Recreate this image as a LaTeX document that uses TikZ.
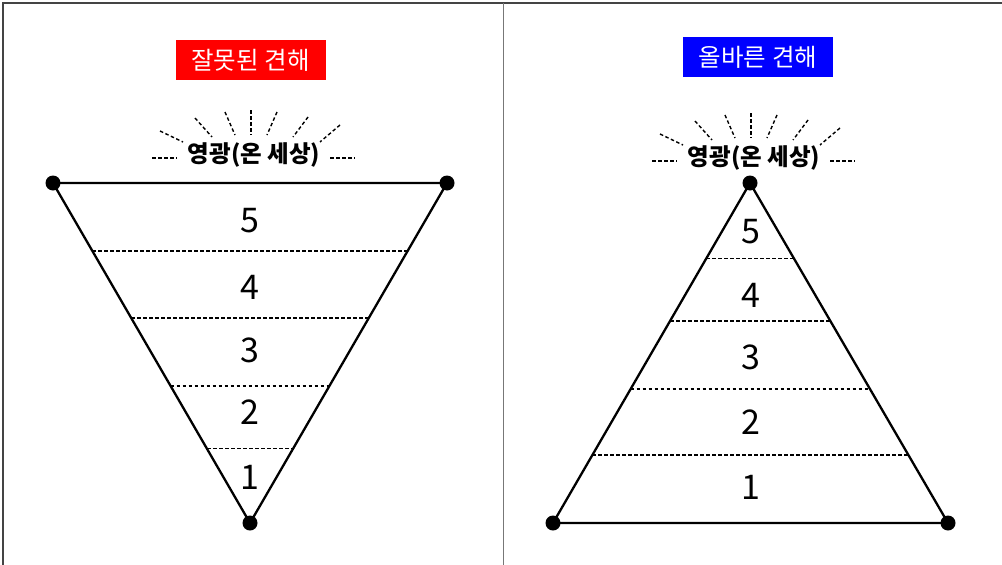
\documentclass[tikz,border=0pt]{standalone}
\usepackage{fontspec}
\setmainfont{Noto Sans CJK KR}
\usetikzlibrary{calc}
\definecolor{framegray}{HTML}{444444}
\definecolor{divgray}{HTML}{777777}
\tikzset{
  vdot/.style={circle,fill=black,inner sep=0pt,minimum size=15pt},
  edge/.style={line width=2.3pt,line join=round},
  level/.style={dash pattern=on 3.5pt off 2.5pt,line width=1.2pt},
  ray/.style={dash pattern=on 3.5pt off 2.5pt,line width=1.4pt},
  num/.style={font=\fontsize{34}{34}\selectfont,inner sep=0pt},
  glorytext/.style={font=\fontsize{23.5}{23.5}\selectfont\bfseries,inner sep=0pt},
  titlebox/.style={text=white,minimum width=150pt,minimum height=40pt,inner sep=0pt,font=\fontsize{24.5}{24.5}\selectfont}
}
\newcommand{\drawglory}[2]{%
  \begin{scope}[shift={(#1,#2)}]
    \node[glorytext] (#1g) at (3,155) {영광(온 세상)};
    \foreach \ax/\ay/\bx/\by in {-99/158/-74/158, 79/158/104/158,
       -91/131/-68/142, -56/118/-39/137, -26/112/-16/135, 0/110/0/135,
       26/112/16/135, 57/117/42/137, 89/125/69/142}
      \draw[ray] (\ax,\ay) -- (\bx,\by);
  \end{scope}}
\begin{document}
\begin{tikzpicture}[x=1pt,y=-1pt]
\useasboundingbox (0,0) rectangle (1002,565);
\fill[white] (0,0) rectangle (1002,565);
% frame
\draw[framegray,line width=1.6pt] (3,565) -- (3,3) -- (1002,3);
\draw[divgray,line width=1pt] (503,3) -- (503,565);
% titles
\node[titlebox,fill={rgb,255:red,255;green,0;blue,0}] (tl) at (250.5,60) {잘못된 견해};
\node[titlebox,fill={rgb,255:red,0;green,0;blue,255}] (tr) at (758,57) {올바른 견해};
% glory
\drawglory{251}{0}
\drawglory{751}{3}
% left inverted triangle
\node[vdot] (L1) at (53,183) {};
\node[vdot] (L2) at (447,183) {};
\node[vdot] (L3) at (250,523) {};
\draw[edge] (L1.center) -- (L2.center) -- (L3.center) -- cycle;
\foreach \t in {0.2,0.397,0.597,0.782}
  \draw[level] ($(L1.center)!\t!(L3.center)$) -- ($(L2.center)!\t!(L3.center)$);
\node[num] (l5) at (250,221) {5};
\node[num] (l4) at (250,287) {4};
\node[num] (l3) at (250,350) {3};
\node[num] (l2) at (250,412) {2};
\node[num] (l1) at (250,477) {1};
% right pyramid
\node[vdot] (R1) at (750,183) {};
\node[vdot] (R2) at (553,523) {};
\node[vdot] (R3) at (948,523) {};
\draw[edge] (R1.center) -- (R2.center) -- (R3.center) -- cycle;
\foreach \t in {0.221,0.406,0.606,0.8}
  \draw[level] ($(R1.center)!\t!(R2.center)$) -- ($(R1.center)!\t!(R3.center)$);
\node[num] (r5) at (751,232) {5};
\node[num] (r4) at (751,295) {4};
\node[num] (r3) at (751,357) {3};
\node[num] (r2) at (751,422) {2};
\node[num] (r1) at (751,487) {1};
\end{tikzpicture}
\end{document}
